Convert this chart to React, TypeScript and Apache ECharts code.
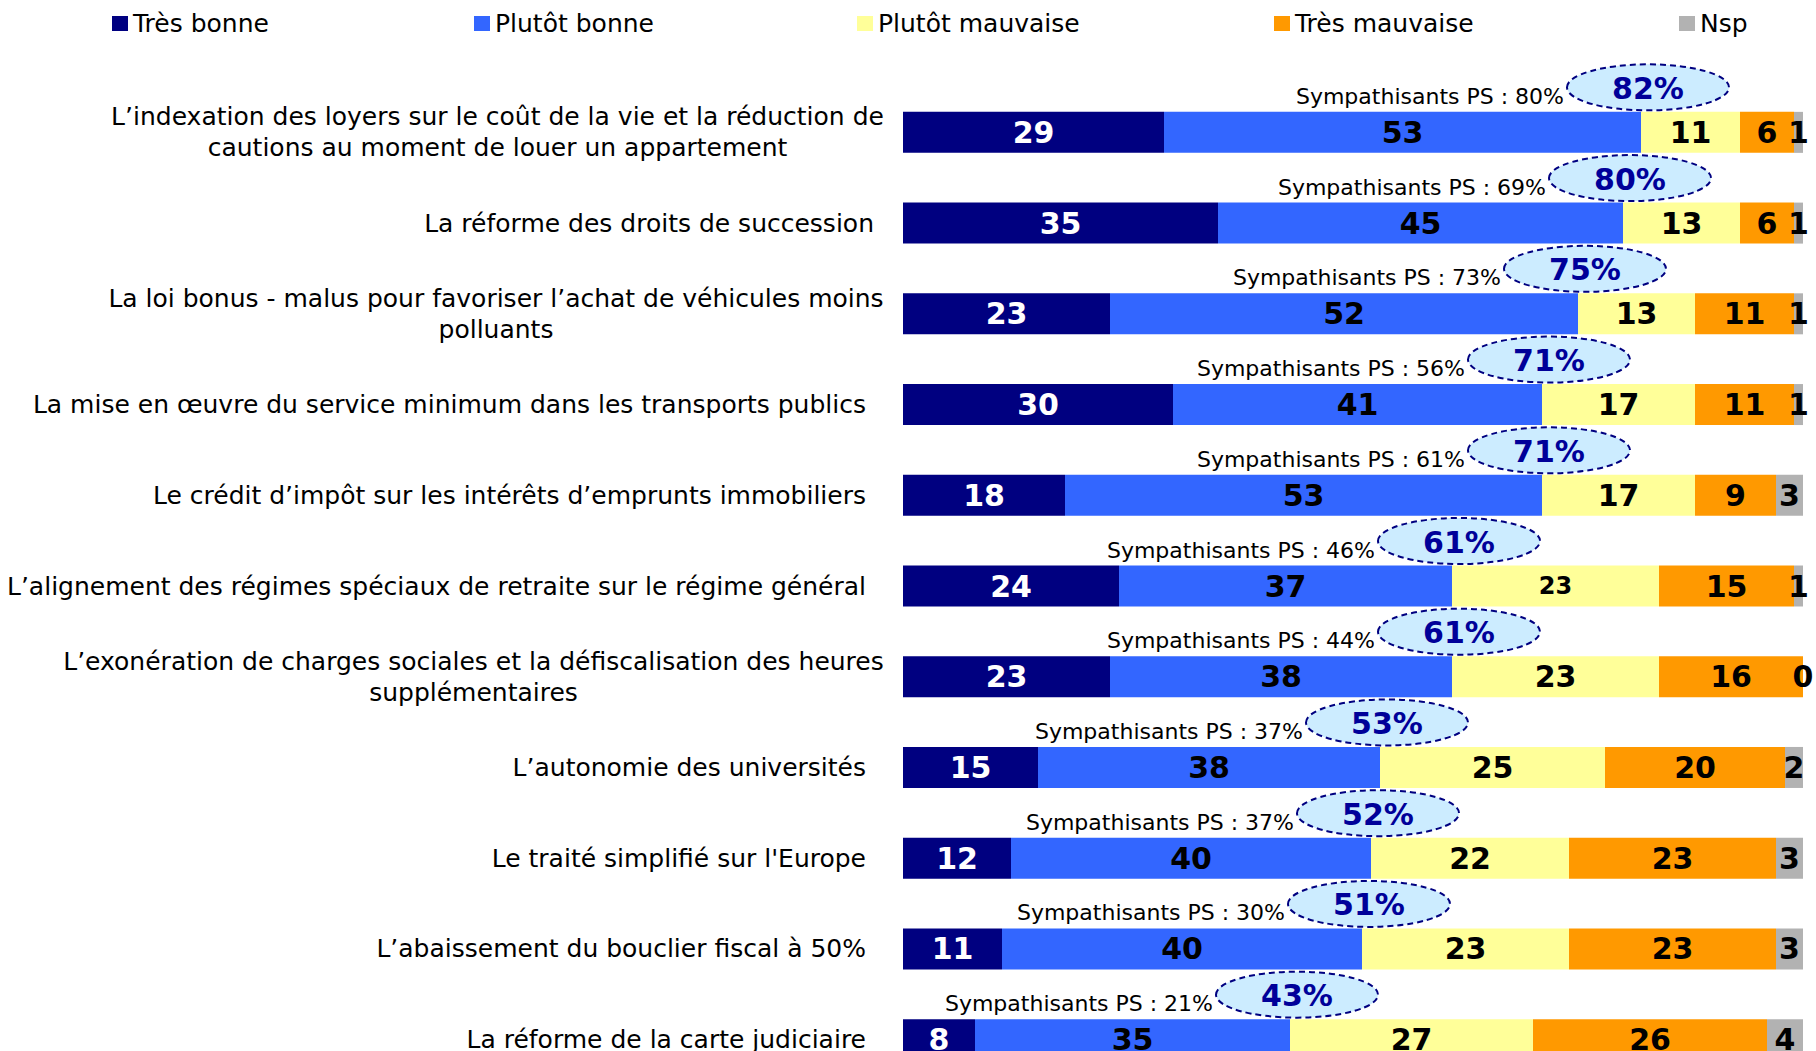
import React, { useEffect, useRef } from 'react';
import * as echarts from 'echarts';

const FONT = "'DejaVu Sans', Verdana, sans-serif";

const categories = [
  'L’indexation des loyers sur le coût de la vie et la réduction de\ncautions au moment de louer un appartement',
  'La réforme des droits de succession',
  'La loi bonus - malus pour favoriser l’achat de véhicules moins\npolluants',
  'La mise en œuvre du service minimum dans les transports publics',
  'Le crédit d’impôt sur les intérêts d’emprunts immobiliers',
  'L’alignement des régimes spéciaux de retraite sur le régime général',
  'L’exonération de charges sociales et la défiscalisation des heures\nsupplémentaires',
  'L’autonomie des universités',
  'Le traité simplifié sur l\'Europe',
  'L’abaissement du bouclier fiscal à 50%',
  'La réforme de la carte judiciaire',
];

const seriesNames = ['Très bonne', 'Plutôt bonne', 'Plutôt mauvaise', 'Très mauvaise', 'Nsp'];

const tresBonne = [29, 35, 23, 30, 18, 24, 23, 15, 12, 11, 8];
const plutotBonne = [53, 45, 52, 41, 53, 37, 38, 38, 40, 40, 35];
const plutotMauvaise = [11, 13, 13, 17, 17, 23, 23, 25, 22, 23, 27];
const tresMauvaise = [6, 6, 11, 11, 9, 15, 16, 20, 23, 23, 26];
const nsp = [1, 1, 1, 1, 3, 1, 0, 2, 3, 3, 4];
const sympathisantsPS = [80, 69, 73, 56, 61, 46, 44, 37, 37, 30, 21];

const colors = ['#000080', '#3366FF', '#FFFF99', '#FF9900', '#B2B2B2'];
const labelColors = ['#FFFFFF', '#000000', '#000000', '#000000', '#000000'];
const legendLefts = [112, 474, 857, 1274, 1679];

const LABEL_SIZE = 25;

function measure(text: string, size: number): number {
  const c = document.createElement('canvas');
  const ctx = c.getContext('2d');
  if (!ctx) return text.length * size * 0.55;
  ctx.font = `${size}px ${FONT}`;
  return ctx.measureText(text).width;
}

function buildOption() {
  const values = [tresBonne, plutotBonne, plutotMauvaise, tresMauvaise, nsp];

  const rich: Record<string, any> = {
    s: { fontSize: LABEL_SIZE, fontFamily: FONT, color: '#000', padding: [0, 18, 0, 0], lineHeight: 31 },
    t: { fontSize: LABEL_SIZE, fontFamily: FONT, color: '#000', padding: [0, 10, 0, 0], lineHeight: 31 },
  };
  categories.forEach((c, i) => {
    if (c.includes('\n')) {
      const w = Math.max(...c.split('\n').map((l) => measure(l, LABEL_SIZE)));
      rich['m' + i] = { fontSize: LABEL_SIZE, fontFamily: FONT, color: '#000', width: Math.ceil(w), align: 'center', lineHeight: 31 };
    }
  });

  const barSeries = values.map((arr, si) => ({
    name: seriesNames[si],
    type: 'bar',
    stack: 'total',
    barWidth: 41,
    itemStyle: { color: colors[si] },
    label: {
      show: true,
      position: 'inside',
      formatter: '{c}',
      fontFamily: FONT,
      fontWeight: 'bold',
      fontSize: 30,
      color: labelColors[si],
    },
    data: arr.map((v, i) =>
      si === 2 && i === 5 ? { value: v, label: { fontSize: 24 } } : v
    ),
    z: 2,
  }));

  const annotData = categories.map((_, i) => [tresBonne[i] + plutotBonne[i], i, sympathisantsPS[i]]);

  const annotSeries = {
    type: 'custom',
    name: 'annot',
    clip: false,
    z: 5,
    encode: { x: 0, y: 1 },
    data: annotData,
    renderItem: (params: any, api: any) => {
      const total = api.value(0);
      const idx = api.value(1);
      const ps = api.value(2);
      const p = api.coord([total, idx]);
      const rx = 81;
      const ry = 23;
      const cx = p[0] + 7;
      const cy = p[1] - 45;
      return {
        type: 'group',
        children: [
          {
            type: 'ellipse',
            shape: { cx, cy, rx, ry },
            style: { fill: '#CCECFF', stroke: '#000080', lineWidth: 2, lineDash: [6, 4] },
          },
          {
            type: 'text',
            x: cx,
            y: cy + 1,
            style: {
              text: total + '%',
              fill: '#000099',
              fontFamily: FONT,
              fontWeight: 'bold',
              fontSize: 30,
              align: 'center',
              verticalAlign: 'middle',
            },
          },
          {
            type: 'text',
            x: cx - rx - 3,
            y: p[1] - 36,
            style: {
              text: 'Sympathisants PS : ' + ps + '%',
              fill: '#000000',
              fontFamily: FONT,
              fontSize: 22,
              align: 'right',
              verticalAlign: 'middle',
            },
          },
        ],
      };
    },
  };

  return {
    animation: false,
    backgroundColor: '#FFFFFF',
    legend: seriesNames.map((n, i) => ({
      data: [n],
      left: legendLefts[i],
      top: 11,
      padding: 0,
      icon: 'rect',
      itemWidth: 16,
      itemHeight: 15,
      selectedMode: false,
      textStyle: { fontFamily: FONT, fontSize: 25, color: '#000' },
    })),
    grid: { left: 903, width: 900, top: 87, height: 998, containLabel: false },
    xAxis: {
      type: 'value',
      min: 0,
      max: 100,
      show: false,
    },
    yAxis: {
      type: 'category',
      data: categories,
      inverse: true,
      axisLine: { show: false },
      axisTick: { show: false },
      splitLine: { show: false },
      axisLabel: {
        interval: 0,
        margin: 19,
        align: 'right',
        fontFamily: FONT,
        fontSize: LABEL_SIZE,
        color: '#000',
        formatter: (value: string, index: number) => {
          if (value.includes('\n')) {
            return value
              .split('\n')
              .map((l) => `{m${index}|${l}}`)
              .join('\n');
          }
          return index === 1 ? `{t|${value}}` : `{s|${value}}`;
        },
        rich,
      },
    },
    series: [...barSeries, annotSeries],
  };
}

export default function App() {
  const ref = useRef<HTMLDivElement>(null);
  useEffect(() => {
    if (!ref.current) return;
    const chart = echarts.init(ref.current, null, { renderer: 'svg' });
    chart.setOption(buildOption() as any);
    return () => chart.dispose();
  }, []);
  return (
    <div style={{ position: 'fixed', left: 0, top: 0, width: 1816, height: 1051, overflow: 'hidden', background: '#fff' }}>
      <div ref={ref} style={{ width: 1816, height: 1095 }} />
    </div>
  );
}
